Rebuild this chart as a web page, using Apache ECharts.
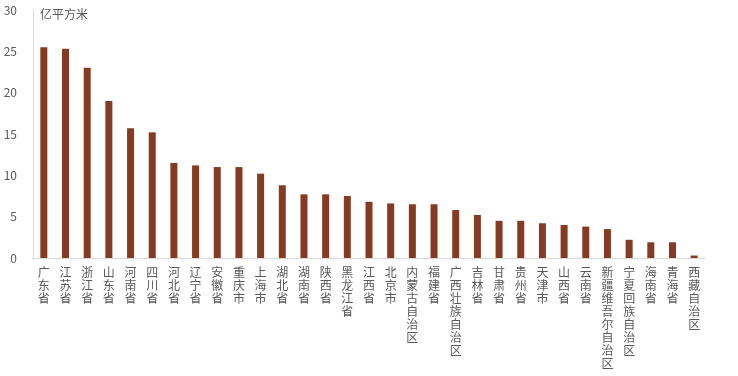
<!DOCTYPE html>
<html>
<head>
<meta charset="utf-8">
<script src="https://cdn.jsdelivr.net/npm/echarts@6/dist/echarts.min.js"></script>
<style>
html,body{margin:0;padding:0;background:#fff;}
#main{width:738px;height:376px;}
</style>
</head>
<body>
<div id="main"></div>
<script>
const categories = ['广东省','江苏省','浙江省','山东省','河南省','四川省','河北省','辽宁省','安徽省','重庆市','上海市','湖北省','湖南省','陕西省','黑龙江省','江西省','北京市','内蒙古自治区','福建省','广西壮族自治区','吉林省','甘肃省','贵州省','天津市','山西省','云南省','新疆维吾尔自治区','宁夏回族自治区','海南省','青海省','西藏自治区'];
const values = [25.5,25.3,23.0,19.0,15.7,15.2,11.5,11.2,11.0,11.0,10.2,8.8,7.7,7.7,7.5,6.8,6.6,6.5,6.5,5.8,5.2,4.5,4.5,4.2,4.0,3.8,3.5,2.2,1.9,1.9,0.3];
const unitLabel = '亿平方米';

const chart = echarts.init(document.getElementById('main'));
chart.setOption({
  animation:false,
  textStyle:{fontFamily:'"Noto Sans CJK SC", sans-serif'},
  grid:{left:33,right:33,top:10,bottom:118},
  graphic:[{type:'text',left:40,top:8,style:{text:unitLabel,fill:'#595959',font:'12px "Noto Sans CJK SC"'}}],
  xAxis:{
    type:'category',data:categories,
    axisLine:{lineStyle:{color:'#D9D9D9'}},
    axisTick:{show:false},
    axisLabel:{interval:0,color:'#595959',fontSize:12,lineHeight:13,margin:8,
      formatter:v=>v.split('').join('\n')}
  },
  yAxis:{
    type:'value',min:0,max:30,interval:5,
    axisLine:{show:true,lineStyle:{color:'#D9D9D9'}},
    splitLine:{show:false},
    axisLabel:{color:'#595959',fontSize:12,margin:16}
  },
  series:[{type:'bar',data:values,barWidth:7,itemStyle:{color:'#843B21'}}]
});
</script>
</body>
</html>
